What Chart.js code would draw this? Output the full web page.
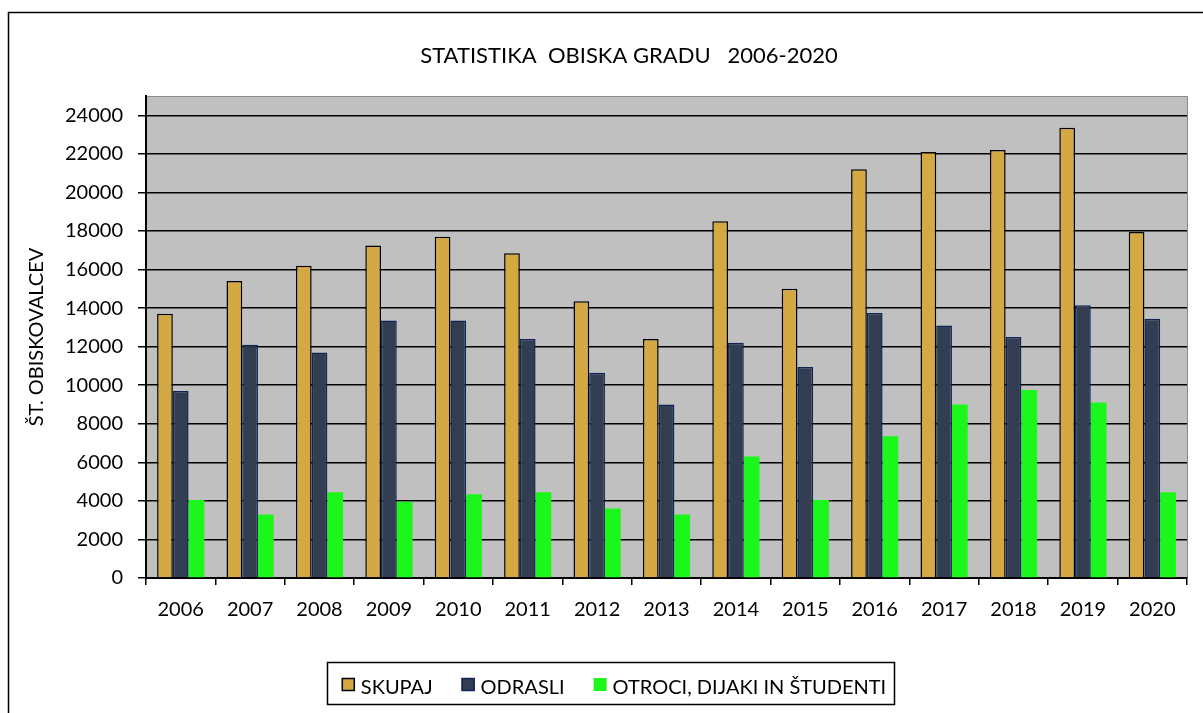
<!DOCTYPE html>
<html>
<head>
<meta charset="utf-8">
<script src="https://cdn.jsdelivr.net/npm/chart.js@4.4.1/dist/chart.umd.min.js"></script>
<style>
  html, body { margin: 0; padding: 0; background: #fff; }
  #grafico { display: block; }
</style>
</head>
<body>
<canvas id="grafico" width="1203" height="713"></canvas>
<script>
// dados
const anos = ['2006', '2007', '2008', '2009', '2010', '2011', '2012', '2013', '2014', '2015', '2016', '2017', '2018', '2019', '2020'];
const skupaj = [13700, 15400, 16200, 17250, 17700, 16850, 14350, 12400, 18500, 15000, 21200, 22100, 22200, 23350, 17950];
const odrasli = [9700, 12100, 11700, 13350, 13350, 12400, 10650, 9000, 12200, 10950, 13750, 13100, 12500, 14150, 13450];
const otroci = [4050, 3300, 4450, 3950, 4350, 4450, 3600, 3300, 6300, 4050, 7350, 9000, 9750, 9100, 4450];
const marcasY = [0, 2000, 4000, 6000, 8000, 10000, 12000, 14000, 16000, 18000, 20000, 22000, 24000];

const titulo = 'STATISTIKA  OBISKA GRADU   2006-2020';
const tituloEixoY = 'ŠT. OBISKOVALCEV';

const paleta = {
    ouro: '#D4A843',
    marinho: '#323D51',
    bordaMarinho: '#0F2557',
    verde: '#1BF71B',
    fundo: '#C0C0C0'
};

const fonte = 'Lato';

// fundo, moldura, titulo e legenda
const moldura = {
    id: 'moldura',
    beforeDraw(chart) {
        const { ctx, chartArea: a } = chart;
        ctx.save();
        ctx.fillStyle = '#fff';
        ctx.fillRect(0, 0, chart.width, chart.height);
        ctx.strokeStyle = '#000';
        ctx.lineWidth = 1.5;
        ctx.strokeRect(8.5, 12.5, 1400, 1000);
        ctx.fillStyle = paleta.fundo;
        ctx.fillRect(a.left, a.top, a.right - a.left, a.bottom - a.top);
        ctx.strokeStyle = '#8a8a8a';
        ctx.lineWidth = 1;
        ctx.beginPath();
        ctx.moveTo(a.left, a.top + 0.5);
        ctx.lineTo(a.right + 0.5, a.top + 0.5);
        ctx.lineTo(a.right + 0.5, a.bottom);
        ctx.stroke();
        ctx.restore();
    },
    afterDraw(chart) {
        const { ctx } = chart;
        ctx.save();
        ctx.fillStyle = '#000';
        ctx.font = '22px ' + fonte;
        ctx.textAlign = 'center';
        ctx.textBaseline = 'alphabetic';
        ctx.fillText(titulo, 629, 63);

        // caixa da legenda
        ctx.strokeStyle = '#000';
        ctx.lineWidth = 1.5;
        ctx.strokeRect(327.5, 662.5, 567, 42);

        ctx.font = '20px ' + fonte;
        const itens = chart.data.datasets;
        const caixa = 13, folga = 6, espaco = 29;
        const larguras = itens.map(d => caixa + folga + ctx.measureText(d.label).width);
        const total = larguras.reduce((s, w) => s + w, 0) + espaco * (itens.length - 1);
        let x = 614 - total / 2;
        ctx.textAlign = 'left';
        itens.forEach((d, i) => {
            ctx.fillStyle = d.backgroundColor;
            ctx.fillRect(x, 678, caixa, caixa);
            if (d.borderWidth) {
                ctx.strokeStyle = d.borderColor;
                ctx.lineWidth = 1.5;
                ctx.strokeRect(x + 0.5, 678.5, caixa - 1, caixa - 1);
            }
            ctx.fillStyle = '#000';
            ctx.fillText(d.label, x + caixa + folga, 694);
            x += larguras[i] + espaco;
        });
        ctx.restore();
    }
};

new Chart(document.getElementById('grafico'), {
    type: 'bar',
    data: {
        labels: anos,
        datasets: [{
            label: 'SKUPAJ',
            data: skupaj,
            backgroundColor: paleta.ouro,
            borderColor: '#000',
            borderWidth: 1.5
        }, {
            label: 'ODRASLI',
            data: odrasli,
            backgroundColor: paleta.marinho,
            borderColor: paleta.bordaMarinho,
            borderWidth: 1.5
        }, {
            label: 'OTROCI, DIJAKI IN ŠTUDENTI',
            data: otroci,
            backgroundColor: paleta.verde,
            borderWidth: 0
        }]
    },
    options: {
        responsive: false,
        animation: false,
        categoryPercentage: 0.68,
        barPercentage: 1,
        layout: { padding: { left: 10, top: 96, right: 16, bottom: 0 } },
        plugins: {
            legend: { display: false },
            title: { display: false },
            tooltip: { enabled: false }
        },
        scales: {
            x: {
                afterFit(scale) { scale.height = 135; },
                grid: {
                    offset: true,
                    drawOnChartArea: false,
                    drawTicks: true,
                    tickLength: 7,
                    color: '#000',
                    lineWidth: 1.5
                },
                border: { color: '#000', width: 2 },
                ticks: { color: '#000', padding: 13, font: { family: fonte, size: 20 } }
            },
            y: {
                min: 0,
                max: 25000,
                afterFit(scale) { scale.width = 136; },
                afterBuildTicks(scale) { scale.ticks = marcasY.map(v => ({ value: v })); },
                grid: { color: '#000', lineWidth: 1.5, tickLength: 8 },
                border: { color: '#000', width: 2 },
                ticks: {
                    color: '#000',
                    padding: 15,
                    font: { family: fonte, size: 20 },
                    callback: v => String(v)
                },
                title: {
                    display: true,
                    text: tituloEixoY,
                    color: '#000',
                    padding: { top: 15, bottom: 0 },
                    font: { family: fonte, size: 20 }
                }
            }
        }
    },
    plugins: [moldura]
});
</script>
</body>
</html>
